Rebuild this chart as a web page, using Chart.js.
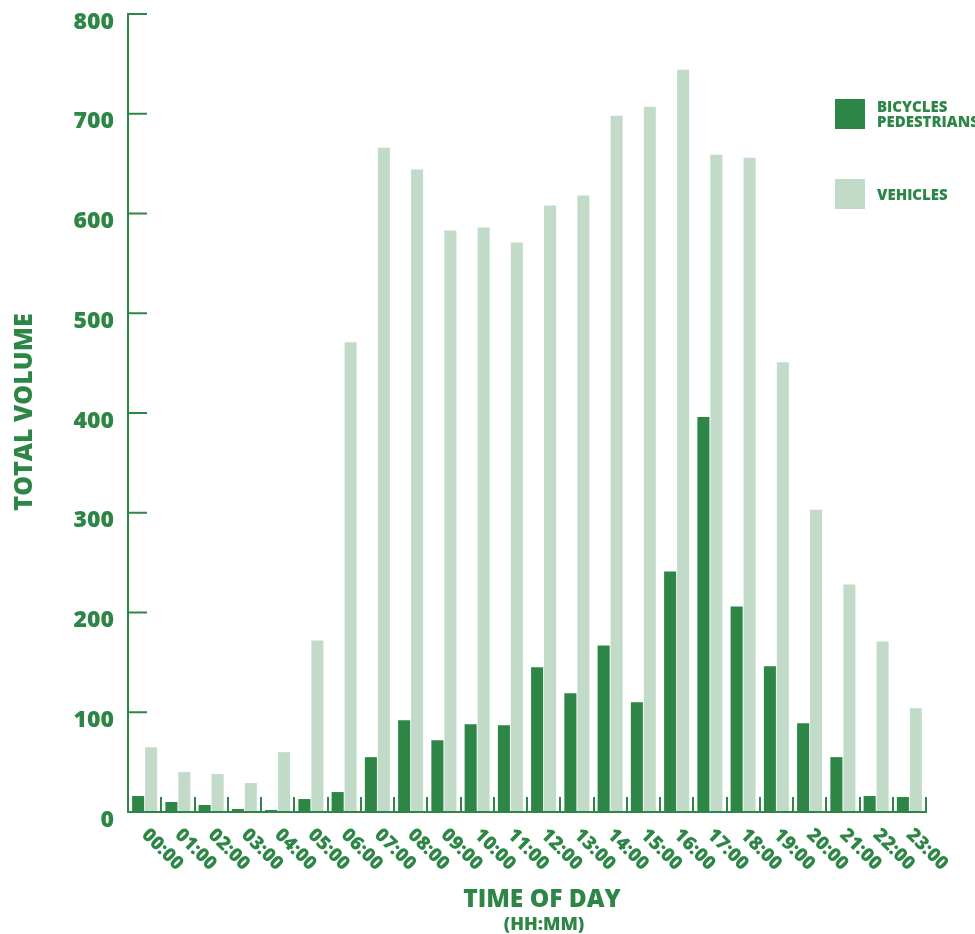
<!DOCTYPE html>
<html>
<head>
<meta charset="utf-8">
<script src="https://cdn.jsdelivr.net/npm/chart.js@4.4.1/dist/chart.umd.min.js"></script>
<style>
  html, body { margin: 0; padding: 0; background: #ffffff; }
  #wrap { position: relative; width: 975px; height: 934px; }
  canvas { display: block; }
</style>
</head>
<body>
<div id="wrap"><canvas id="c" width="975" height="934"></canvas></div>
<script>
const categories = ['00:00','01:00','02:00','03:00','04:00','05:00','06:00','07:00','08:00','09:00','10:00','11:00',
                    '12:00','13:00','14:00','15:00','16:00','17:00','18:00','19:00','20:00','21:00','22:00','23:00'];
const bikesPeds = [16, 10, 7, 3, 2, 13, 20, 55, 92, 72, 88, 87, 145, 119, 167, 110, 241, 396, 206, 146, 89, 55, 16, 15];
const vehicles  = [65, 40, 38, 29, 60, 172, 471, 666, 644, 583, 586, 571, 608, 618, 698, 707, 744, 659, 656, 451, 303, 228, 171, 104];
const yTicks = [0, 100, 200, 300, 400, 500, 600, 700, 800];
const seriesNames = [['BICYCLES', 'PEDESTRIANS'], ['VEHICLES']];
const xTitle = 'TIME OF DAY';
const xSubTitle = '(HH:MM)';
const yTitle = 'TOTAL VOLUME';

const DARK = '#2e8646';
const LIGHT = '#c2dbc9';
const FONT = "'Open Sans', 'Noto Sans', sans-serif";

const axesPlugin = {
  id: 'customAxes',
  afterDatasetsDraw(chart) {
    const ctx = chart.ctx;
    const xs = chart.scales.x, ys = chart.scales.y;
    const left = chart.chartArea.left, right = chart.chartArea.right;
    const top = ys.getPixelForValue(yTicks[yTicks.length - 1]);
    const bottom = ys.getPixelForValue(0);
    const step = xs.getPixelForValue(1) - xs.getPixelForValue(0);
    ctx.save();
    ctx.strokeStyle = DARK;
    ctx.fillStyle = DARK;
    ctx.lineWidth = 2;
    // y axis line
    ctx.beginPath();
    ctx.moveTo(left, top - 1);
    ctx.lineTo(left, bottom + 1);
    ctx.stroke();
    // x axis line
    ctx.beginPath();
    ctx.moveTo(left - 1, bottom);
    ctx.lineTo(right + 1, bottom);
    ctx.stroke();
    // y ticks (inward)
    yTicks.forEach(v => {
      const y = ys.getPixelForValue(v);
      ctx.beginPath();
      ctx.moveTo(left, y);
      ctx.lineTo(left + 19, y);
      ctx.stroke();
    });
    // x ticks (upward, at category boundaries)
    for (let i = 0; i < categories.length; i++) {
      const x = Math.round(xs.getPixelForValue(i) + step / 2);
      ctx.beginPath();
      ctx.moveTo(x, bottom);
      ctx.lineTo(x, bottom - 15);
      ctx.stroke();
    }
    // y tick labels
    ctx.font = `800 23px ${FONT}`;
    ctx.textAlign = 'right';
    ctx.textBaseline = 'alphabetic';
    yTicks.forEach(v => {
      const y = ys.getPixelForValue(v);
      ctx.fillText(String(v), left - 14, y + 14.5);
    });
    // x tick labels rotated 45deg clockwise
    ctx.font = `800 19px ${FONT}`;
    ctx.textAlign = 'left';
    categories.forEach((lab, i) => {
      const x = xs.getPixelForValue(i) + 1;
      const y = bottom + 19;
      ctx.save();
      ctx.translate(x, y);
      ctx.rotate(Math.PI / 4);
      ctx.fillText(lab, 0, 6.8);
      ctx.restore();
    });
    // x title
    ctx.textAlign = 'center';
    ctx.font = `800 24.5px ${FONT}`;
    ctx.fillText(xTitle, 542, 907);
    ctx.font = `800 18px ${FONT}`;
    ctx.fillText(xSubTitle, 544, 930);
    // y title
    ctx.save();
    ctx.translate(32, 412);
    ctx.rotate(-Math.PI / 2);
    ctx.font = `800 25px ${FONT}`;
    ctx.fillText(yTitle, 0, 0);
    ctx.restore();
    // legend
    const colors = [DARK, LIGHT];
    const boxY = [99, 179];
    ctx.textAlign = 'left';
    ctx.font = `800 15px ${FONT}`;
    seriesNames.forEach((lines, k) => {
      ctx.fillStyle = colors[k];
      ctx.fillRect(835, boxY[k], 30, 30);
      ctx.fillStyle = DARK;
      if (lines.length === 2) {
        ctx.fillText(lines[0], 877, 112);
        ctx.fillText(lines[1], 877, 127);
      } else {
        ctx.fillText(lines[0], 877, 200);
      }
    });
    ctx.restore();
  }
};

new Chart(document.getElementById('c'), {
  type: 'bar',
  data: {
    labels: categories,
    datasets: [
      { label: seriesNames[0].join(' '), data: bikesPeds, backgroundColor: DARK, borderWidth: 0 },
      { label: seriesNames[1].join(' '), data: vehicles, backgroundColor: LIGHT, borderWidth: 0 }
    ]
  },
  options: {
    responsive: false,
    animation: false,
    devicePixelRatio: 1,
    categoryPercentage: 0.78,
    barPercentage: 0.93,
    layout: { padding: { left: 128, right: 49, top: 14, bottom: 122 } },
    plugins: { legend: { display: false }, tooltip: { enabled: false }, title: { display: false } },
    scales: {
      x: { display: false },
      y: { display: false, min: 0, max: 800 }
    }
  },
  plugins: [axesPlugin]
});
</script>
</body>
</html>
